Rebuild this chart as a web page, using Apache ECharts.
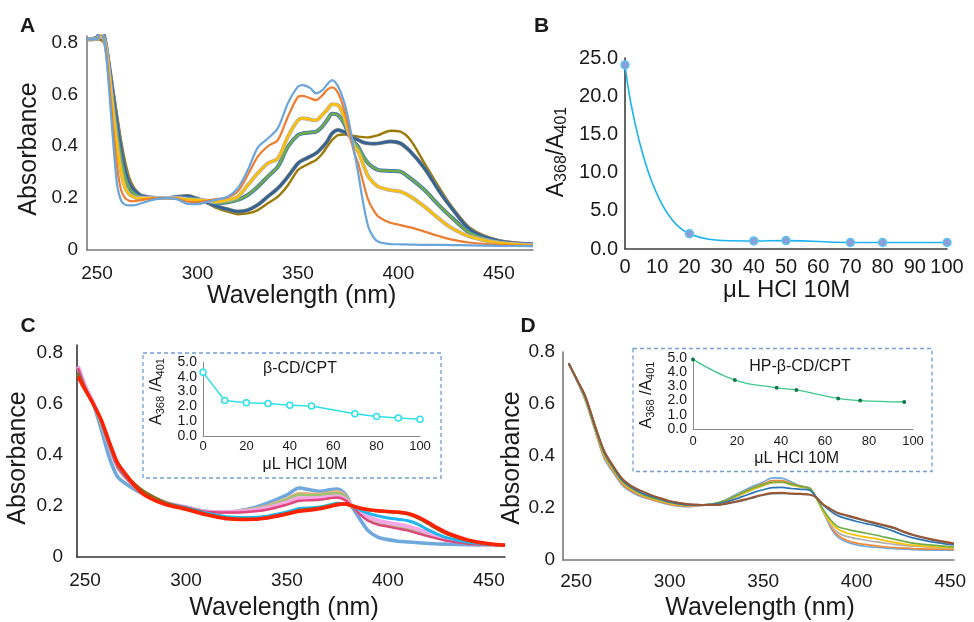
<!DOCTYPE html>
<html><head><meta charset="utf-8">
<script src="https://cdn.jsdelivr.net/npm/echarts@6/dist/echarts.min.js"></script>
<style>html,body{margin:0;padding:0;background:#fff}#c{width:974px;height:622px}</style>
</head><body><div id="c"></div>
<script>
const FONT = '"Liberation Sans", Arial, Helvetica, sans-serif';

// ---------- Panel A: wavelength grid and absorbance series ----------
const WA = [245,250,252,254,256,258,260,262,264,266,268,270,272,276,280,285,290,295,300,305,310,315,320,325,330,335,340,345,350,352.5,356,359,362,364.5,367,370,373,375.5,378,380,382.5,385,387.5,390,396,401,406,413,420,426,436,450,467];
const A_LB = [0.812,0.815,0.84,0.79,0.62,0.42,0.25,0.19,0.175,0.172,0.172,0.175,0.18,0.19,0.197,0.2,0.195,0.178,0.177,0.186,0.195,0.205,0.238,0.308,0.395,0.43,0.47,0.566,0.63,0.636,0.625,0.604,0.615,0.638,0.655,0.63,0.57,0.49,0.38,0.296,0.18,0.09,0.05,0.032,0.023,0.022,0.021,0.02,0.02,0.019,0.018,0.016,0.015];
const A_OR = [0.812,0.815,0.835,0.795,0.65,0.47,0.32,0.23,0.2,0.19,0.188,0.19,0.192,0.197,0.2,0.2,0.197,0.186,0.185,0.19,0.197,0.203,0.225,0.289,0.36,0.4,0.424,0.514,0.59,0.594,0.585,0.578,0.595,0.617,0.627,0.605,0.54,0.46,0.375,0.334,0.26,0.193,0.155,0.129,0.105,0.096,0.087,0.071,0.054,0.041,0.028,0.02,0.016];
const A_YL = [0.812,0.815,0.83,0.8,0.68,0.53,0.4,0.3,0.24,0.215,0.205,0.2,0.2,0.2,0.2,0.2,0.2,0.195,0.193,0.19,0.186,0.193,0.205,0.25,0.296,0.334,0.353,0.437,0.5,0.508,0.503,0.5,0.52,0.54,0.562,0.558,0.514,0.448,0.4,0.379,0.33,0.283,0.26,0.244,0.231,0.225,0.206,0.167,0.122,0.087,0.051,0.028,0.018];
const A_GR = [0.812,0.82,0.85,0.81,0.7,0.57,0.45,0.35,0.28,0.24,0.22,0.21,0.205,0.2,0.2,0.2,0.202,0.2,0.195,0.188,0.18,0.184,0.193,0.212,0.244,0.283,0.321,0.398,0.443,0.45,0.453,0.456,0.475,0.5,0.525,0.52,0.488,0.443,0.415,0.398,0.36,0.334,0.318,0.308,0.305,0.302,0.276,0.231,0.174,0.129,0.064,0.03,0.02];
const A_DB = [0.812,0.815,0.83,0.8,0.71,0.6,0.49,0.39,0.31,0.26,0.235,0.22,0.21,0.203,0.2,0.2,0.205,0.208,0.198,0.183,0.167,0.157,0.148,0.154,0.174,0.206,0.238,0.283,0.334,0.347,0.36,0.373,0.395,0.418,0.45,0.463,0.455,0.443,0.43,0.424,0.415,0.411,0.41,0.411,0.418,0.411,0.379,0.315,0.231,0.167,0.077,0.035,0.022];
const A_OL = [0.812,0.812,0.81,0.79,0.72,0.62,0.52,0.42,0.34,0.28,0.245,0.225,0.212,0.203,0.2,0.2,0.205,0.21,0.198,0.18,0.16,0.148,0.138,0.141,0.154,0.18,0.206,0.25,0.308,0.321,0.335,0.347,0.37,0.398,0.424,0.443,0.445,0.443,0.44,0.437,0.435,0.434,0.438,0.443,0.46,0.456,0.424,0.334,0.244,0.174,0.084,0.038,0.024];

// ---------- Panel B ----------
const B_X = [0,20,40,50,70,80,100];
const B_Y = [24.1,2.0,1.05,1.1,0.85,0.85,0.85];

// ---------- Panel C ----------
const WC = [246.5,250,254,258,262,266,270,275,280,290,300,310,320,330,340,350,356,362,367,371,375,379,382,386,390,395,400,405,410,415,420,425,430,440,450,458];
const C_LB = [0.745,0.67,0.6,0.5,0.39,0.315,0.288,0.263,0.242,0.212,0.195,0.178,0.176,0.186,0.21,0.243,0.27,0.262,0.257,0.263,0.266,0.245,0.2,0.15,0.105,0.078,0.068,0.062,0.059,0.056,0.053,0.051,0.05,0.048,0.047,0.046];
const C_OR = [0.74,0.665,0.6,0.52,0.43,0.35,0.31,0.272,0.246,0.212,0.195,0.178,0.177,0.184,0.2,0.228,0.25,0.247,0.247,0.252,0.256,0.24,0.202,0.17,0.147,0.132,0.123,0.116,0.108,0.098,0.087,0.076,0.066,0.054,0.049,0.047];
const C_GR = [0.74,0.665,0.6,0.525,0.435,0.355,0.312,0.273,0.247,0.212,0.195,0.178,0.177,0.183,0.197,0.224,0.244,0.242,0.243,0.248,0.25,0.236,0.202,0.172,0.148,0.131,0.122,0.115,0.107,0.097,0.086,0.075,0.065,0.053,0.048,0.046];
const C_PK = [0.745,0.67,0.605,0.53,0.44,0.36,0.315,0.275,0.248,0.213,0.195,0.177,0.176,0.18,0.192,0.214,0.23,0.23,0.232,0.236,0.238,0.226,0.203,0.178,0.158,0.143,0.134,0.127,0.12,0.108,0.095,0.082,0.07,0.056,0.049,0.047];
const C_CR = [0.74,0.665,0.6,0.525,0.435,0.355,0.312,0.273,0.247,0.212,0.195,0.177,0.174,0.176,0.185,0.205,0.22,0.222,0.225,0.23,0.233,0.222,0.2,0.168,0.143,0.127,0.119,0.111,0.103,0.092,0.081,0.071,0.062,0.052,0.048,0.046];
const C_CY = [0.72,0.66,0.6,0.53,0.44,0.365,0.32,0.278,0.25,0.212,0.193,0.172,0.158,0.155,0.16,0.176,0.19,0.193,0.197,0.204,0.21,0.207,0.2,0.185,0.172,0.161,0.153,0.148,0.142,0.128,0.106,0.088,0.074,0.058,0.05,0.047];
const C_OL = [0.72,0.66,0.6,0.535,0.45,0.37,0.325,0.282,0.252,0.212,0.19,0.168,0.153,0.148,0.153,0.17,0.183,0.188,0.193,0.2,0.207,0.207,0.2,0.19,0.185,0.18,0.177,0.174,0.168,0.152,0.13,0.107,0.088,0.064,0.051,0.046];
const C_RD = [0.706,0.655,0.6,0.537,0.45,0.37,0.325,0.275,0.24,0.205,0.187,0.165,0.15,0.147,0.153,0.168,0.179,0.184,0.19,0.197,0.205,0.208,0.201,0.192,0.186,0.181,0.178,0.176,0.17,0.156,0.135,0.112,0.092,0.066,0.052,0.046];
const CI_X = [0,10,20,30,40,50,70,80,90,100];
const CI_Y = [4.3,2.4,2.25,2.2,2.07,2.03,1.5,1.32,1.22,1.13];

// ---------- Panel D ----------
const WD = [246,250,255,260,265,270,275,280,285,290,295,300,305,310,315,320,325,330,335,340,345,350,355,360,365,370,375,378,382,386,390,395,400,405,410,415,420,425,430,440,452];
const D_LB = [0.756,0.695,0.612,0.5,0.392,0.335,0.285,0.26,0.243,0.232,0.222,0.213,0.207,0.205,0.208,0.212,0.218,0.232,0.25,0.268,0.285,0.3,0.316,0.315,0.3,0.285,0.275,0.245,0.19,0.125,0.088,0.068,0.058,0.052,0.049,0.046,0.044,0.042,0.04,0.038,0.038];
const D_OR = [0.756,0.698,0.615,0.503,0.398,0.34,0.29,0.264,0.246,0.234,0.224,0.215,0.209,0.206,0.209,0.212,0.218,0.23,0.246,0.263,0.28,0.293,0.305,0.305,0.295,0.284,0.276,0.245,0.19,0.13,0.095,0.075,0.065,0.059,0.055,0.051,0.048,0.046,0.044,0.042,0.041];
const D_GY = [0.756,0.7,0.618,0.507,0.405,0.347,0.297,0.271,0.251,0.238,0.228,0.219,0.213,0.21,0.211,0.213,0.218,0.228,0.242,0.257,0.272,0.286,0.297,0.298,0.29,0.281,0.274,0.243,0.185,0.135,0.105,0.09,0.082,0.076,0.07,0.065,0.06,0.056,0.053,0.049,0.046];
const D_YL = [0.756,0.7,0.618,0.507,0.405,0.347,0.297,0.271,0.251,0.238,0.228,0.219,0.213,0.21,0.211,0.213,0.218,0.228,0.243,0.258,0.273,0.287,0.298,0.299,0.29,0.281,0.274,0.243,0.19,0.145,0.118,0.103,0.095,0.088,0.082,0.075,0.068,0.062,0.057,0.051,0.047];
const D_GR = [0.756,0.7,0.62,0.51,0.41,0.35,0.3,0.274,0.254,0.241,0.231,0.221,0.215,0.211,0.211,0.213,0.219,0.229,0.245,0.262,0.278,0.29,0.3,0.3,0.292,0.283,0.275,0.243,0.195,0.155,0.128,0.118,0.11,0.103,0.096,0.088,0.08,0.072,0.065,0.057,0.05];
const D_BL = [0.756,0.7,0.625,0.515,0.415,0.355,0.305,0.278,0.258,0.245,0.234,0.223,0.216,0.212,0.212,0.213,0.216,0.223,0.234,0.247,0.26,0.27,0.278,0.279,0.275,0.272,0.268,0.245,0.212,0.188,0.17,0.158,0.148,0.14,0.132,0.122,0.11,0.096,0.085,0.07,0.058];
const D_DG = [0.756,0.7,0.63,0.52,0.42,0.36,0.31,0.283,0.265,0.25,0.238,0.227,0.22,0.215,0.213,0.211,0.211,0.215,0.222,0.23,0.24,0.249,0.255,0.256,0.254,0.253,0.25,0.242,0.213,0.194,0.179,0.169,0.159,0.149,0.14,0.131,0.121,0.107,0.095,0.077,0.062];
const D_BR = [0.756,0.7,0.63,0.52,0.42,0.36,0.31,0.283,0.265,0.25,0.238,0.227,0.22,0.215,0.213,0.211,0.212,0.217,0.225,0.233,0.243,0.252,0.258,0.259,0.256,0.255,0.252,0.243,0.215,0.197,0.182,0.172,0.162,0.152,0.143,0.134,0.125,0.11,0.098,0.08,0.064];
const DI_X = [0,19,38,47,66,76,96];
const DI_Y = [4.9,3.45,2.9,2.75,2.15,2.0,1.9];

// ---------- helpers ----------
function pairs(xs, ys) { return xs.map((x, i) => [x, ys[i]]); }
const TXT = '#1a1a1a';
function fifty(v) { return (Math.abs(v % 50) < 1e-6) ? String(Math.round(v)) : ''; }
function absFmt(v) {
  const r = Math.round(v * 5);
  if (Math.abs(v * 5 - r) > 1e-6) return '';
  return r === 0 ? '0' : (r / 5).toFixed(1);
}
function xAx(grid, min, max, interval, fmt, size, margin, lineColor, lw) {
  return {
    type: 'value', gridIndex: grid, min: min, max: max, interval: interval,
    axisLine: { show: true, onZero: false, lineStyle: { color: lineColor, width: lw } },
    axisTick: { show: false }, splitLine: { show: false },
    axisLabel: { formatter: fmt, fontSize: size, fontFamily: FONT, color: TXT, margin: margin }
  };
}
function yAx(grid, min, max, interval, fmt, size, margin, lineColor, lw) {
  return {
    type: 'value', gridIndex: grid, min: min, max: max, interval: interval,
    axisLine: { show: true, onZero: false, lineStyle: { color: lineColor, width: lw } },
    axisTick: { show: false }, splitLine: { show: false },
    axisLabel: { formatter: fmt, fontSize: size, fontFamily: FONT, color: TXT, margin: margin }
  };
}
function spec(ax, xs, ys, color, width, z) {
  return {
    type: 'line', xAxisIndex: ax, yAxisIndex: ax, data: pairs(xs, ys),
    symbol: 'none', showSymbol: false, smooth: 0.3, clip: true, z: z || 2,
    lineStyle: { color: color, width: width }, emphasis: { disabled: true }, silent: true
  };
}
function txt(x, y, text, size, opts) {
  opts = opts || {};
  return {
    type: 'text', x: x, y: y, rotation: opts.rot || 0, silent: true, z: 10,
    style: {
      text: text, fill: TXT,
      font: (opts.bold ? 'bold ' : '') + size + 'px ' + FONT,
      align: 'center', verticalAlign: 'middle', textAlign: 'center', textVerticalAlign: 'middle',
      rich: opts.rich
    }
  };
}
function subRich(big, small, lh) {
  return {
    a: { fontSize: big, fontFamily: FONT, fill: TXT, lineHeight: lh, verticalAlign: 'middle' },
    s: { fontSize: small, fontFamily: FONT, fill: TXT, lineHeight: Math.round(small * 0.65), verticalAlign: 'bottom' }
  };
}

const chart = echarts.init(document.getElementById('c'), null, { renderer: 'canvas' });

const option = {
  animation: false,
  backgroundColor: '#ffffff',
  grid: [
    { left: 87, top: 36, width: 446, height: 214 },   // A
    { left: 625, top: 58, width: 322, height: 191 },  // B
    { left: 77, top: 345, width: 428, height: 212 },  // C
    { left: 563, top: 352, width: 391, height: 208 }, // D
    { left: 203, top: 362, width: 217, height: 74 },  // C inset
    { left: 693, top: 358, width: 220, height: 71 }   // D inset
  ],
  xAxis: [
    xAx(0, 245, 467, 5, fifty, 19, 14, '#7a7a7a', 1.6),
    xAx(1, 0, 100, 10, null, 20, 8, '#3f3f3f', 1.6),
    xAx(2, 246, 458, 2, fifty, 19, 14, '#333333', 1.6),
    xAx(3, 243, 452, 1, fifty, 19, 12, '#7a7a7a', 1.6),
    xAx(4, 0, 100, 20, null, 13, 4, '#8a8a8a', 1),
    xAx(5, 0, 100, 20, null, 13, 6, '#8a8a8a', 1)
  ],
  yAxis: [
    yAx(0, 0, 0.825, 0.2, absFmt, 19, 9, '#7a7a7a', 1.6),
    yAx(1, 0, 25, 5, v => v.toFixed(1), 20, 7, '#3f3f3f', 1.6),
    yAx(2, 0, 0.83, 0.2, absFmt, 19, 14, '#333333', 1.6),
    yAx(3, 0, 0.8, 0.2, absFmt, 19, 8, '#7a7a7a', 1.6),
    yAx(4, 0, 5, 1, v => v.toFixed(1), 14, 6, '#8a8a8a', 1),
    yAx(5, 0, 5, 1, v => v.toFixed(1), 14, 6, '#8a8a8a', 1)
  ],
  series: [
    // A
    spec(0, WA, A_OL, '#9c7a08', 2.4),
    spec(0, WA, A_DB, '#7f7f7f', 4),
    spec(0, WA, A_DB, '#2f6396', 2.4),
    spec(0, WA, A_GR, '#4472c4', 4),
    spec(0, WA, A_GR, '#70ad47', 2.4),
    spec(0, WA, A_YL, '#b4b4b4', 4),
    spec(0, WA, A_YL, '#ffc000', 2.4),
    spec(0, WA, A_OR, '#ed7d31', 2.2),
    spec(0, WA, A_LB, '#6aa5dc', 2.2),
    // B
    {
      type: 'line', xAxisIndex: 1, yAxisIndex: 1, data: pairs(B_X, B_Y), smooth: 0.5,
      symbol: 'circle', symbolSize: 8, showSymbol: true, silent: true,
      lineStyle: { color: '#1cb4ee', width: 1.6 },
      itemStyle: { color: '#8c9ed8', borderColor: '#5cc6f2', borderWidth: 1.5 }
    },
    // C
    spec(2, WC, C_LB, '#6fa8dc', 3.6),
    spec(2, WC, C_OR, '#f4b183', 3),
    spec(2, WC, C_GR, '#9cc46f', 3),
    spec(2, WC, C_PK, '#f6a8e6', 4),
    spec(2, WC, C_CR, '#e0457b', 2.4),
    spec(2, WC, C_CY, '#1fb6ef', 3),
    spec(2, WC, C_OL, '#8c6a1e', 3),
    spec(2, WC, C_RD, '#ff2200', 3.6),
    // C inset
    {
      type: 'line', xAxisIndex: 4, yAxisIndex: 4, data: pairs(CI_X, CI_Y), smooth: false,
      symbol: 'circle', symbolSize: 6, showSymbol: true, silent: true,
      lineStyle: { color: '#2ee0e8', width: 1.5 },
      itemStyle: { color: '#ffffff', borderColor: '#2ee0e8', borderWidth: 1.5 }
    },
    // D
    spec(3, WD, D_LB, '#6fa8dc', 1.7),
    spec(3, WD, D_OR, '#f08a3c', 1.7),
    spec(3, WD, D_GY, '#b0b0b0', 1.7),
    spec(3, WD, D_YL, '#ffc000', 1.7),
    spec(3, WD, D_GR, '#70ad47', 1.7),
    spec(3, WD, D_BL, '#2e75b6', 1.7),
    spec(3, WD, D_DG, '#6f6f6f', 1.7),
    spec(3, WD, D_BR, '#a0522d', 1.7),
    // D inset
    {
      type: 'line', xAxisIndex: 5, yAxisIndex: 5, data: pairs(DI_X, DI_Y), smooth: 0.4,
      symbol: 'circle', symbolSize: 4, showSymbol: true, silent: true,
      lineStyle: { color: '#3cc88c', width: 1.3 },
      itemStyle: { color: '#0f7a4a' }
    }
  ],
  graphic: [
    { type: 'rect', silent: true, z: 5, shape: { x: 143, y: 353, width: 298, height: 125 },
      style: { fill: 'none', stroke: '#6f9fd6', lineWidth: 1.3, lineDash: [4, 3] } },
    { type: 'rect', silent: true, z: 5, shape: { x: 633, y: 348.5, width: 299, height: 123 },
      style: { fill: 'none', stroke: '#6f9fd6', lineWidth: 1.3, lineDash: [4, 3] } },
    txt(27.5, 26, 'A', 21, { bold: true }),
    txt(541.7, 26, 'B', 21, { bold: true }),
    txt(28, 326, 'C', 21, { bold: true }),
    txt(528, 326, 'D', 21, { bold: true }),
    txt(301.7, 296, 'Wavelength (nm)', 25),
    txt(29, 149, 'Absorbance', 25, { rot: Math.PI / 2 }),
    txt(786.7, 290, 'μL HCl 10M', 24),
    txt(556.7, 152, '{a|A}{s|368}{a|/A}{s|401}', 23, { rot: Math.PI / 2, rich: subRich(23, 16, 26) }),
    txt(284, 608, 'Wavelength (nm)', 25),
    txt(18.3, 458, 'Absorbance', 25, { rot: Math.PI / 2 }),
    txt(760, 608, 'Wavelength (nm)', 25),
    txt(511.7, 458, 'Absorbance', 25, { rot: Math.PI / 2 }),
    txt(300, 368.3, 'β-CD/CPT', 16),
    txt(305, 465, 'μL HCl 10M', 16),
    txt(157, 391.5, '{a|A}{s|368}{a| /A}{s|401}', 16, { rot: Math.PI / 2, rich: subRich(16, 11, 18) }),
    txt(800, 366.7, 'HP-β-CD/CPT', 16),
    txt(796.7, 459, 'μL HCl 10M', 16),
    txt(647, 395, '{a|A}{s|368}{a| /A}{s|401}', 16, { rot: Math.PI / 2, rich: subRich(16, 11, 18) })
  ]
};
chart.setOption(option);
</script>
</body></html>
